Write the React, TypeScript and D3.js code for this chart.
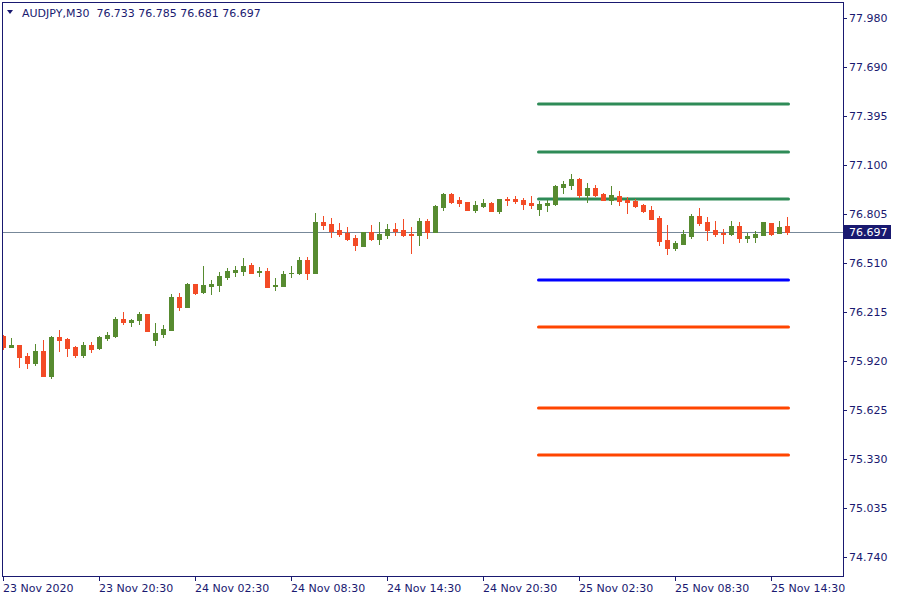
import React from "react";
import * as d3 from "d3";

// AUDJPY M30 bars
const symbolTitle = "AUDJPY,M30";

const opens = [
  76.072, 76.006, 76.016, 75.952, 75.910, 75.980, 75.832, 76.064, 76.052, 76.004,
  75.958, 76.016, 76.000, 76.060, 76.072, 76.173, 76.157, 76.169, 76.203, 76.048,
  76.084, 76.108, 76.305, 76.247, 76.383, 76.337, 76.373, 76.379, 76.427, 76.457,
  76.463, 76.497, 76.453, 76.461, 76.373, 76.373, 76.447, 76.451, 76.527, 76.451,
  76.756, 76.744, 76.708, 76.692, 76.660, 76.613, 76.696, 76.656, 76.680, 76.714,
  76.707, 76.683, 76.677, 76.761, 76.695, 76.848, 76.924, 76.888, 76.876, 76.830,
  76.854, 76.870, 76.824, 76.894, 76.894, 76.888, 76.870, 76.836, 76.860, 76.866,
  76.968, 76.980, 77.014, 76.918, 76.960, 76.924, 76.890, 76.912, 76.888, 76.882,
  76.858, 76.828, 76.779, 76.647, 76.601, 76.625, 76.673, 76.791, 76.755, 76.707,
  76.691, 76.685, 76.731, 76.661, 76.667, 76.679, 76.749, 76.691, 76.733,
];
const highs = [
  76.076, 76.058, 76.016, 75.968, 76.022, 76.046, 76.070, 76.106, 76.058, 76.010,
  76.034, 76.034, 76.070, 76.094, 76.185, 76.215, 76.173, 76.215, 76.203, 76.149,
  76.137, 76.323, 76.329, 76.389, 76.383, 76.491, 76.407, 76.455, 76.479, 76.491,
  76.539, 76.509, 76.485, 76.479, 76.419, 76.461, 76.491, 76.545, 76.545, 76.810,
  76.792, 76.780, 76.750, 76.726, 76.678, 76.696, 76.738, 76.756, 76.744, 76.750,
  76.773, 76.725, 76.779, 76.773, 76.858, 76.930, 76.930, 76.906, 76.876, 76.882,
  76.894, 76.876, 76.894, 76.906, 76.912, 76.900, 76.912, 76.882, 76.888, 76.978,
  77.002, 77.044, 77.020, 76.990, 76.978, 76.930, 76.972, 76.942, 76.906, 76.894,
  76.864, 76.852, 76.791, 76.737, 76.641, 76.707, 76.803, 76.840, 76.785, 76.761,
  76.713, 76.761, 76.755, 76.689, 76.701, 76.755, 76.749, 76.761, 76.785,
];
const lows = [
  75.994, 76.006, 75.886, 75.880, 75.898, 75.832, 75.820, 75.982, 75.952, 75.946,
  75.946, 75.976, 75.994, 76.048, 76.066, 76.145, 76.133, 76.145, 76.102, 76.018,
  76.066, 76.108, 76.229, 76.247, 76.325, 76.331, 76.325, 76.343, 76.415, 76.433,
  76.439, 76.451, 76.433, 76.367, 76.349, 76.373, 76.427, 76.445, 76.415, 76.451,
  76.716, 76.668, 76.674, 76.650, 76.589, 76.613, 76.648, 76.625, 76.662, 76.680,
  76.673, 76.571, 76.617, 76.659, 76.695, 76.830, 76.872, 76.854, 76.830, 76.818,
  76.848, 76.824, 76.812, 76.860, 76.872, 76.836, 76.842, 76.800, 76.824, 76.860,
  76.930, 76.954, 76.906, 76.878, 76.912, 76.890, 76.866, 76.860, 76.812, 76.848,
  76.818, 76.775, 76.619, 76.565, 76.589, 76.625, 76.661, 76.739, 76.649, 76.673,
  76.631, 76.679, 76.637, 76.637, 76.637, 76.679, 76.679, 76.691, 76.681,
];
const closes = [
  76.006, 76.016, 75.946, 75.910, 75.980, 75.832, 76.066, 76.048, 76.000, 75.958,
  76.016, 75.994, 76.064, 76.076, 76.173, 76.157, 76.167, 76.203, 76.102, 76.088,
  76.112, 76.305, 76.247, 76.383, 76.331, 76.377, 76.383, 76.431, 76.461, 76.467,
  76.491, 76.451, 76.461, 76.367, 76.377, 76.443, 76.451, 76.527, 76.451, 76.756,
  76.740, 76.704, 76.686, 76.656, 76.619, 76.696, 76.654, 76.684, 76.714, 76.704,
  76.677, 76.679, 76.761, 76.695, 76.852, 76.924, 76.876, 76.872, 76.830, 76.858,
  76.870, 76.824, 76.894, 76.890, 76.884, 76.866, 76.860, 76.864, 76.870, 76.972,
  76.984, 77.014, 76.918, 76.960, 76.918, 76.890, 76.918, 76.884, 76.878, 76.854,
  76.824, 76.775, 76.643, 76.601, 76.629, 76.683, 76.791, 76.751, 76.707, 76.685,
  76.681, 76.731, 76.661, 76.671, 76.683, 76.755, 76.685, 76.725, 76.697,
];

const timeLabels = [
  "23 Nov 2020", "23 Nov 20:30", "24 Nov 02:30", "24 Nov 08:30", "24 Nov 14:30",
  "24 Nov 20:30", "25 Nov 02:30", "25 Nov 08:30", "25 Nov 14:30",
];
const timeLabelBars = [0, 12, 24, 36, 48, 60, 72, 84, 96];

const priceTicks = [
  77.98, 77.69, 77.395, 77.1, 76.805, 76.51, 76.215, 75.92, 75.625, 75.33, 75.035, 74.74,
];

// horizontal levels drawn on the right part of the chart
const levelPrices = [77.463, 77.178, 76.894, 76.405, 76.123, 75.636, 75.353];
const levelColors = ["#2e8b57", "#2e8b57", "#2e8b57", "#0000ff", "#ff4500", "#ff4500", "#ff4500"];
const levelFromBar = 67;
const levelToBar = 98;

const W = 900;
const H = 600;
const left = 2;
const top = 2;
const right = 843;
const bottom = 576;

const fg = "#191970";
const bullColor = "#578b30";
const bearColor = "#f34b26";
const font = "'DejaVu Sans', Verdana, sans-serif";

const App: React.FC = () => {
  const n = closes.length;
  const x = d3.scaleLinear().domain([0, n - 1]).range([3, 787]);
  const y = d3.scaleLinear().domain([74.628, 78.078]).range([bottom, top]);

  const last = closes[n - 1];
  const lastY = Math.round(y(last)) + 0.5;
  const fmt = d3.format(".3f");

  return (
    <svg
      width={W}
      height={H}
      style={{ position: "absolute", left: 0, top: 0, background: "#fff" }}
      fontFamily={font}
    >
      <defs>
        <clipPath id="plot">
          <rect x={left} y={top} width={right - left} height={bottom - top} />
        </clipPath>
      </defs>
      <rect x={0} y={0} width={W} height={H} fill="#fff" />

      <g clipPath="url(#plot)">
        {/* last price line */}
        <line x1={left} x2={right} y1={lastY} y2={lastY} stroke="#778899" strokeWidth={1} />

        {levelPrices.map((p, i) => (
          <line
            key={"lv" + i}
            x1={x(levelFromBar) - 0.5}
            x2={x(levelToBar) + 1.5}
            y1={Math.round(y(p))}
            y2={Math.round(y(p))}
            stroke={levelColors[i]}
            strokeWidth={3}
            strokeLinecap="round"
          />
        ))}

        {closes.map((c, i) => {
          const o = opens[i];
          const bull = c >= o;
          const col = bull ? bullColor : bearColor;
          const cx = Math.round(x(i));
          const yHi = Math.round(y(highs[i]));
          const yLo = Math.round(y(lows[i]));
          const bTop = Math.round(y(Math.max(o, c)));
          const bBot = Math.round(y(Math.min(o, c)));
          return (
            <g key={"c" + i} fill={col}>
              <rect x={cx} y={yHi} width={1} height={Math.max(1, yLo - yHi + 1)} />
              <rect x={cx - 2} y={bTop} width={5} height={Math.max(1, bBot - bTop + 1)} />
            </g>
          );
        })}
      </g>

      {/* frame */}
      <rect
        x={left + 0.5}
        y={top + 0.5}
        width={right - left}
        height={bottom - top}
        fill="none"
        stroke={fg}
        strokeWidth={1}
      />

      {/* price axis */}
      {priceTicks.map((p) => {
        const ty = Math.round(y(p)) + 0.5;
        return (
          <g key={"pt" + p}>
            <line x1={right + 0.5} x2={right + 4} y1={ty} y2={ty} stroke={fg} />
            <text x={849} y={ty} dy="0.36em" fontSize={11} fill={fg}>
              {fmt(p)}
            </text>
          </g>
        );
      })}

      {/* last price label */}
      <rect x={right + 1} y={lastY - 7.5} width={47} height={14} fill={fg} />
      <text x={849} y={lastY} dy="0.36em" fontSize={11} fill="#fff">
        {fmt(last)}
      </text>

      {/* time axis */}
      {timeLabelBars.map((b, i) => {
        const tx = Math.round(x(b)) + 0.5;
        return (
          <g key={"tl" + b}>
            <line x1={tx} x2={tx} y1={bottom + 0.5} y2={bottom + 5} stroke={fg} />
            <text x={tx - 0.5} y={592} fontSize={11} fill={fg}>
              {timeLabels[i]}
            </text>
          </g>
        );
      })}

      {/* header */}
      <path d="M7,10 L13,10 L10,14 Z" fill={fg} />
      <text x={22} y={17} fontSize={11} fill={fg} style={{ whiteSpace: "pre" }}>
        {`${symbolTitle}  ${fmt(opens[n - 1])} ${fmt(highs[n - 1])} ${fmt(lows[n - 1])} ${fmt(closes[n - 1])}`}
      </text>
    </svg>
  );
};

export default App;
